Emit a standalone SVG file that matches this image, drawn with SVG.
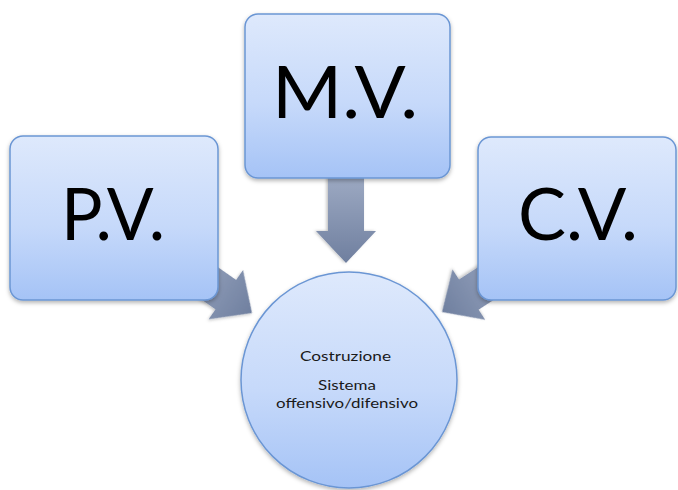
<svg xmlns="http://www.w3.org/2000/svg" width="678" height="490" viewBox="0 0 678 490">
  <defs>
    <linearGradient id="boxFill" x1="0" y1="0" x2="0" y2="1">
      <stop offset="0" stop-color="#dee9fc"/>
      <stop offset="0.55" stop-color="#c6d9fa"/>
      <stop offset="1" stop-color="#a5c3f6"/>
    </linearGradient>
    <linearGradient id="arrowFill" x1="0" y1="0" x2="1" y2="0">
      <stop offset="0" stop-color="#a4b0c8"/>
      <stop offset="1" stop-color="#6f7f9f"/>
    </linearGradient>
    <filter id="shadow" x="-10%" y="-10%" width="125%" height="125%">
      <feDropShadow dx="0" dy="2" stdDeviation="2" flood-color="#000000" flood-opacity="0.3"/>
    </filter>
    <filter id="ashadow" x="-20%" y="-20%" width="140%" height="140%">
      <feDropShadow dx="0" dy="1.5" stdDeviation="1.5" flood-color="#000000" flood-opacity="0.25"/>
    </filter>
  </defs>
  <style>
    .box { fill: url(#boxFill); stroke: #6b96d4; stroke-width: 1.5; filter: url(#shadow); }
    .arrow { fill: url(#arrowFill); filter: url(#ashadow); }
    .big { font-family: Lato, "Open Sans", "Liberation Sans", sans-serif; font-size: 72px; font-weight: 400; fill: #000000; text-anchor: start; }
    .small { font-family: Lato, "Open Sans", "Liberation Sans", sans-serif; font-size: 14px; fill: #1a1a1a; }
  </style>
  <rect width="678" height="490" fill="#ffffff"/>

  <g id="connectors">
    <polygon class="arrow" transform="translate(346,263) rotate(90)" points="0,0 -32,-30 -32,-18 -100,-18 -100,18 -32,18 -32,30"/>
    <polygon class="arrow" transform="translate(252,313) rotate(35)" points="0,0 -32,-30 -32,-18 -100,-18 -100,18 -32,18 -32,30"/>
    <polygon class="arrow" transform="translate(442,312) rotate(147)" points="0,0 -32,-30 -32,-18 -100,-18 -100,18 -32,18 -32,30"/>
  </g>

  <g id="node-pv">
    <rect class="box" x="10" y="136" width="208" height="164" rx="13"/>
    <text class="big" x="61" y="240" textLength="104" lengthAdjust="spacingAndGlyphs">P.V.</text>
  </g>

  <g id="node-mv">
    <rect class="box" x="245" y="14" width="205" height="164" rx="13"/>
    <text class="big" x="272" y="118" textLength="146" lengthAdjust="spacingAndGlyphs">M.V.</text>
  </g>

  <g id="node-cv">
    <rect class="box" x="478" y="137" width="198" height="163" rx="13"/>
    <text class="big" x="518" y="240" textLength="120" lengthAdjust="spacingAndGlyphs">C.V.</text>
  </g>

  <g id="node-center">
    <circle class="box" cx="349" cy="380" r="108" stroke="#5f8dd0"/>
    <text class="small" x="300" y="361" textLength="91" lengthAdjust="spacingAndGlyphs">Costruzione</text>
    <text class="small" x="318" y="390" textLength="58" lengthAdjust="spacingAndGlyphs">Sistema</text>
    <text class="small" x="276" y="408" textLength="142" lengthAdjust="spacingAndGlyphs">offensivo/difensivo</text>
  </g>
</svg>
